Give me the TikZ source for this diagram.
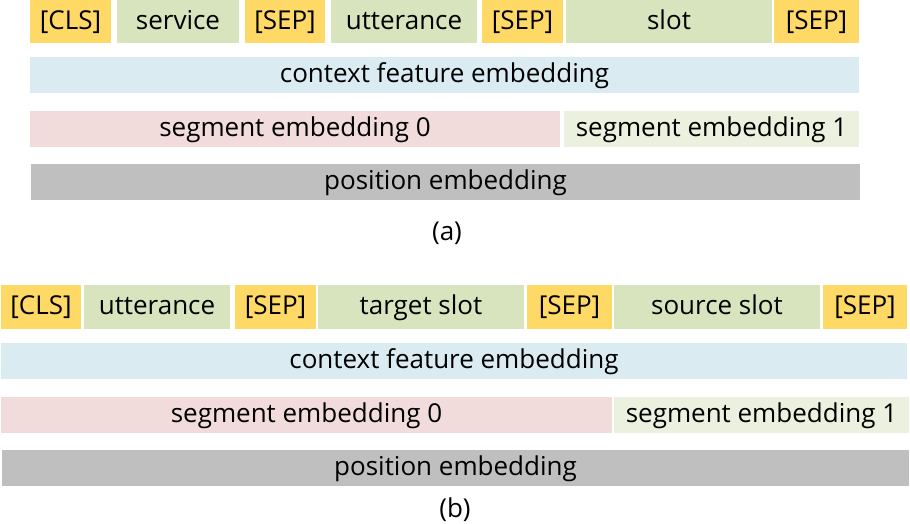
\documentclass[tikz,border=0pt]{standalone}
\usepackage{fontspec}
\setmainfont{Open Sans}
\definecolor{tokyellow}{HTML}{FFD966}
\definecolor{tokgreen}{HTML}{D7E4BD}
\definecolor{ctxblue}{HTML}{DAEBF2}
\definecolor{segpink}{HTML}{F2DCDB}
\definecolor{seggreen}{HTML}{EBF1DE}
\definecolor{posgray}{HTML}{BFBFBF}
\begin{document}
\begin{tikzpicture}[x=0.5pt, y=-0.5pt,
    tokbox/.style={inner sep=0pt, outer sep=0pt, minimum height=22pt,
      font=\fontsize{13}{15}\selectfont, text height=1.6ex, text depth=.15ex},
    embbox/.style={inner sep=0pt, outer sep=0pt, minimum height=18pt,
      font=\fontsize{13}{15}\selectfont, text height=1.6ex, text depth=.15ex},
    caplbl/.style={font=\fontsize{13}{15}\selectfont, inner sep=0pt}
  ]
  \useasboundingbox (0,0) rectangle (910,524);
  % input tokens
  \foreach \nm/\xa/\xb/\yc/\lbl/\clr in {%
    acls/30/111/21.5/{[CLS]}/tokyellow,
    asvc/117/239/21.5/service/tokgreen,
    asep1/245/325/21.5/{[SEP]}/tokyellow,
    autt/331/477/21.5/utterance/tokgreen,
    asep2/482/563/21.5/{[SEP]}/tokyellow,
    aslot/566/772/21.5/slot/tokgreen,
    asep3/774/859/21.5/{[SEP]}/tokyellow,
    bcls/1/81/307/{[CLS]}/tokyellow,
    butt/84/230/307/utterance/tokgreen,
    bsep1/235/316/307/{[SEP]}/tokyellow,
    btgt/318/524/307/target slot/tokgreen,
    bsep2/527/612/307/{[SEP]}/tokyellow,
    bsrc/614/820/307/source slot/tokgreen,
    bsep3/823/907/307/{[SEP]}/tokyellow%
  }{
    \node[tokbox, fill=\clr, minimum width={(\xb-\xa)*0.5pt}]
      (\nm) at ({(\xa+\xb)/2},\yc) {\lbl};
  }
  % embedding rows
  \foreach \nm/\xa/\xb/\yc/\lbl/\clr in {%
    actx/30/859/75/context feature embedding/ctxblue,
    aseg0/30/560/129/segment embedding 0/segpink,
    aseg1/564/859/129/segment embedding 1/seggreen,
    apos/31/860/182/position embedding/posgray,
    bctx/1/907/361/context feature embedding/ctxblue,
    bseg0/1/612/415/segment embedding 0/segpink,
    bseg1/614/909/415/segment embedding 1/seggreen,
    bpos/2/909/468/position embedding/posgray%
  }{
    \node[embbox, fill=\clr, minimum width={(\xb-\xa)*0.5pt}]
      (\nm) at ({(\xa+\xb)/2},\yc) {\lbl};
  }
  \node[caplbl] (capa) at (447,233) {(a)};
  \node[caplbl] (capb) at (455,510) {(b)};
\end{tikzpicture}
\end{document}
